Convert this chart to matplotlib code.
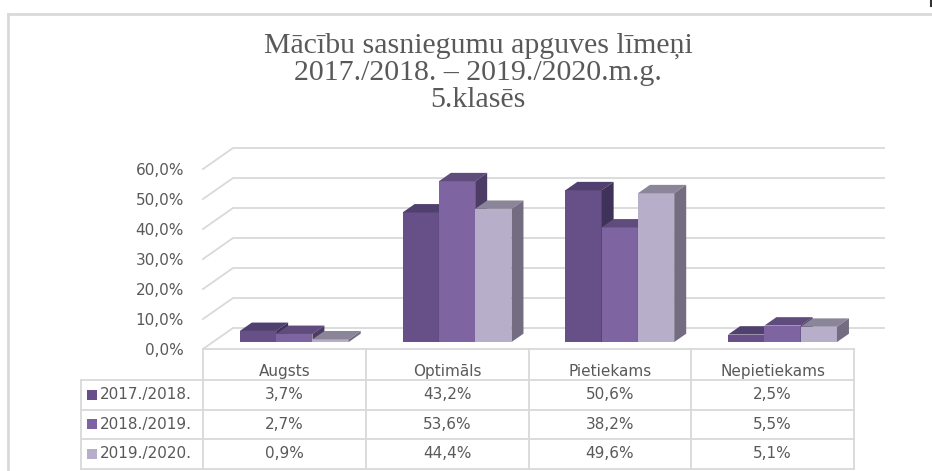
import matplotlib
matplotlib.use("Agg")
import matplotlib.pyplot as plt
import matplotlib.transforms as mtransforms
from matplotlib.patches import Polygon, Rectangle
from matplotlib.ticker import FuncFormatter

# ---- data ----
categories = ["Augsts", "Optimāls", "Pietiekams", "Nepietiekams"]
series_names = ["2017./2018.", "2018./2019.", "2019./2020."]
v_2017_2018 = [3.7, 43.2, 50.6, 2.5]
v_2018_2019 = [2.7, 53.6, 38.2, 5.5]
v_2019_2020 = [0.9, 44.4, 49.6, 5.1]
series_values = [v_2017_2018, v_2018_2019, v_2019_2020]
y_ticks = [0, 10, 20, 30, 40, 50, 60]
title_lines = ["Mācību sasniegumu apguves līmeņi",
               "2017./2018. – 2019./2020.m.g.",
               "5.klasēs"]

# ---- styles ----
plt.rcParams["font.family"] = ["DejaVu Sans"]
front_cols = ["#674F87", "#7E65A1", "#B7AFCA"]
top_cols = ["#50406F", "#5F4C7C", "#8B8599"]
side_cols = ["#3F3258", "#4C3C66", "#746D81"]
key_cols = ["#654E89", "#7D63A3", "#B8ADCB"]
grid_col = "#D9D9D9"
text_col = "#595959"
fs = 11

W, H = 932, 471
fig = plt.figure(figsize=(W / 100, H / 100), dpi=100)
fig.patch.set_facecolor("white")

def fx(px):
    return px / W

def fy(py):
    return 1 - py / H

# plot area (front plane)
x_left, x_right = 203, 854
y_zero, y_top = 349, 169
ax = fig.add_axes([fx(x_left), fy(y_zero), fx(x_right) - fx(x_left), (y_zero - y_top) / H])
ncat = len(categories)
ax.set_xlim(0, ncat)
ax.set_ylim(0, 60)
for s in ax.spines.values():
    s.set_visible(False)
ax.set_xticks([])
ax.set_yticks(y_ticks)
ax.yaxis.set_major_formatter(FuncFormatter(lambda v, p: f"{v:.1f}%".replace(".", ",")))
ax.tick_params(axis="y", length=0, pad=13.7, labelsize=fs, labelcolor=text_col)
ax.patch.set_alpha(0)

# depth offsets in data units
DX = 30 / (x_right - x_left) * ncat
DY = 21 / (y_zero - y_top) * 60

# back wall gridlines + side diagonals
for v in y_ticks:
    ax.plot([0, DX, ncat + DX], [v, v + DY, v + DY], color=grid_col, lw=1.3,
            clip_on=False, zorder=1, solid_joinstyle="miter")

# bars
bw = 0.223
gap = (1 - 3 * bw) / 2
d0, dd = 0.33, 0.4
z = 3
for i in range(ncat):
    for j, vals in enumerate(series_values):
        v = vals[i]
        x0 = i + gap + j * bw + d0 * DX
        y0 = d0 * DY
        ddx, ddy = dd * DX, dd * DY
        ax.add_patch(Polygon([(x0, y0), (x0 + bw, y0), (x0 + bw, y0 + v), (x0, y0 + v)],
                             closed=True, facecolor=front_cols[j], edgecolor="none",
                             clip_on=False, zorder=z))
        ax.add_patch(Polygon([(x0, y0 + v), (x0 + bw, y0 + v), (x0 + bw + ddx, y0 + v + ddy),
                              (x0 + ddx, y0 + v + ddy)],
                             closed=True, facecolor=top_cols[j], edgecolor="none",
                             clip_on=False, zorder=z))
        ax.add_patch(Polygon([(x0 + bw, y0), (x0 + bw, y0 + v), (x0 + bw + ddx, y0 + v + ddy),
                              (x0 + bw + ddx, y0 + ddy)],
                             closed=True, facecolor=side_cols[j], edgecolor="none",
                             clip_on=False, zorder=z))
        z += 1

# ---- data table ----
bt = mtransforms.blended_transform_factory(ax.transData, fig.transFigure)
row_edges = [349, 380, 409.5, 439, 468.5]
label_left = 81
lw_t = 1.3
fig.add_artist(plt.Line2D([0, ncat], [fy(row_edges[0])] * 2, transform=bt, color=grid_col, lw=lw_t))
for ry in row_edges[1:]:
    fig.add_artist(plt.Line2D([fx(label_left), fx(x_right)], [fy(ry)] * 2,
                              transform=fig.transFigure, color=grid_col, lw=lw_t))
for k in range(ncat + 1):
    fig.add_artist(plt.Line2D([k, k], [fy(row_edges[0]), fy(row_edges[-1])], transform=bt,
                              color=grid_col, lw=lw_t))
fig.add_artist(plt.Line2D([fx(label_left)] * 2, [fy(row_edges[1]), fy(row_edges[-1])],
                          transform=fig.transFigure, color=grid_col, lw=lw_t))

for i, c in enumerate(categories):
    fig.text(i + 0.5, fy(371.5), c, transform=bt, ha="center", va="center",
             fontsize=fs, color=text_col)
for j, (name, vals) in enumerate(zip(series_names, series_values)):
    yc = (row_edges[j + 1] + row_edges[j + 2]) / 2
    fig.add_artist(Rectangle((fx(87), fy(yc + 5)), 10 / W, 10 / H, transform=fig.transFigure,
                             facecolor=key_cols[j], edgecolor="none"))
    fig.text(fx(99.5), fy(yc), name, ha="left", va="center", fontsize=fs, color=text_col)
    for i, v in enumerate(vals):
        fig.text(i + 0.5, fy(yc), f"{v:.1f}%".replace(".", ","), transform=bt,
                 ha="center", va="center", fontsize=fs, color=text_col)

# ---- title ----
for k, line in enumerate(title_lines):
    fig.text(fx(478), fy(46 + 27 * k), line, ha="center", va="center",
             fontsize=21.5, color=text_col, family="Liberation Serif")

# chart border (partially visible)
fig.add_artist(plt.Line2D([fx(7.5), fx(7.5)], [0, fy(14)], transform=fig.transFigure,
                          color=grid_col, lw=2))
fig.add_artist(plt.Line2D([fx(7.5), 1], [fy(14), fy(14)], transform=fig.transFigure,
                          color=grid_col, lw=2))
fig.add_artist(plt.Line2D([fx(931), fx(931)], [fy(0), fy(6)], transform=fig.transFigure,
                          color="#333333", lw=1.5))

fig.savefig("out.png", dpi=100, facecolor="white")
